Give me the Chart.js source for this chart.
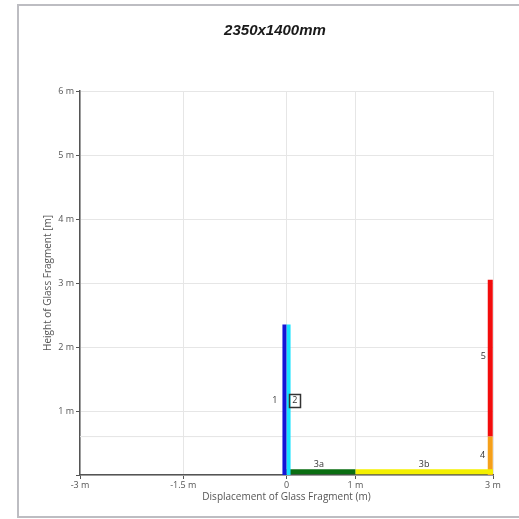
<!DOCTYPE html>
<html>
<head>
<meta charset="utf-8">
<script src="https://cdn.jsdelivr.net/npm/chart.js@4/dist/chart.umd.min.js"></script>
<style>
html,body{margin:0;padding:0;background:#fff;}
#c{display:block;}
</style>
</head>
<body>
<canvas id="c" width="519" height="519"></canvas>
<script>
// ---- data ----
const chartTitle = '2350x1400mm';
const xAxisTitle = 'Displacement of Glass Fragment (m)';
const yAxisTitle = 'Height of Glass Fragment [m]';
const xTicks = [-3, -1.5, 0, 1, 3];
const yTicks = [0, 1, 2, 3, 4, 5, 6];
const fragments = ['1', '2', '3a', '3b', '4', '5'];
const xStart = [-0.03, 0.03, 0, 1, 2.96, 2.96];
const xEnd   = [-0.03, 0.03, 1, 3, 2.96, 2.96];
const yStart = [0, 0, 0.05, 0.05, 0, 0.6];
const yEnd   = [2.35, 2.35, 0.05, 0.05, 0.6, 3.05];
const labelX = [-0.17, 0.12, 0.47, 2.0, 2.85, 2.86];
const labelY = [1.17, 1.17, 0.17, 0.17, 0.31, 1.86];
const refLineY = 0.6;

// ---- styles ----
const segColors = ['#1414d8', '#19e3ff', '#0b6e12', '#f4f000', '#f5a01a', '#f20c0c'];
const segWidths = [4, 4, 5, 5, 5, 5];
const boxed = [false, true, false, false, false, false];
const FONT = 'Open Sans';

const datasets = [];
datasets.push({
  data: [{x: -3, y: refLineY}, {x: 3, y: refLineY}],
  showLine: true, borderColor: '#e4e4e4', borderWidth: 1, pointRadius: 0, order: 10
});
fragments.forEach((f, i) => {
  datasets.push({
    label: f,
    data: [{x: xStart[i], y: yStart[i]}, {x: xEnd[i], y: yEnd[i]}],
    showLine: true, borderColor: segColors[i], borderWidth: segWidths[i],
    borderCapStyle: 'butt', pointRadius: 0, order: 1
  });
});

const decor = {
  id: 'decor',
  beforeDraw(chart) {
    const c = chart.ctx;
    c.save();
    c.strokeStyle = '#bdbdc2';
    c.lineWidth = 2;
    c.strokeRect(18, 5, 560, 512);
    c.fillStyle = '#1a1a1a';
    c.font = 'italic bold 15px "Liberation Sans"';
    c.textAlign = 'center';
    c.textBaseline = 'middle';
    c.fillText(chartTitle, 275, 31);
    c.restore();
  },
  afterDatasetsDraw(chart) {
    const c = chart.ctx, xs = chart.scales.x, ys = chart.scales.y;
    c.save();
    c.font = '9px "' + FONT + '"';
    c.fillStyle = '#333';
    c.textAlign = 'center';
    c.textBaseline = 'middle';
    fragments.forEach((f, i) => {
      const px = xs.getPixelForValue(labelX[i]);
      const py = ys.getPixelForValue(labelY[i]);
      c.fillText(f, px, py);
      if (boxed[i]) {
        const w = c.measureText(f).width + 6;
        c.strokeStyle = '#333';
        c.lineWidth = 1.5;
        c.strokeRect(Math.round(px - w / 2) + 0.5, Math.round(py - 6.5) + 0.5, Math.round(w), 13);
      }
    });
    c.restore();
  }
};

new Chart(document.getElementById('c'), {
  type: 'scatter',
  data: { datasets },
  plugins: [decor],
  options: {
    responsive: false,
    animation: false,
    layout: { padding: { left: 42, right: 26, top: 91, bottom: 16 } },
    plugins: { legend: { display: false }, tooltip: { enabled: false }, title: { display: false } },
    scales: {
      x: {
        type: 'linear', min: -3, max: 3,
        afterBuildTicks: s => { s.ticks = xTicks.map(v => ({ value: v })); },
        afterFit: s => { s.height = 28; },
        ticks: {
          font: { family: FONT, size: 9 }, color: '#555', padding: 1, maxRotation: 0,
          callback: v => v === 0 ? '0' : v + ' m'
        },
        grid: { color: '#e6e6e6', tickLength: 4, tickColor: '#555', lineWidth: 1 },
        border: { color: '#555', width: 1.5 },
        title: { display: true, text: xAxisTitle, font: { family: FONT, size: 10 }, color: '#555', padding: 0 }
      },
      y: {
        type: 'linear', min: 0, max: 6,
        afterBuildTicks: s => { s.ticks = yTicks.map(v => ({ value: v })); },
        afterFit: s => { s.width = 38; },
        ticks: {
          font: { family: FONT, size: 9 }, color: '#555', padding: 2,
          callback: v => v === 0 ? '' : v + ' m'
        },
        grid: { color: '#e6e6e6', tickLength: 4, tickColor: '#555', lineWidth: 1 },
        border: { color: '#555', width: 1.5 },
        title: { display: true, text: yAxisTitle, font: { family: FONT, size: 10 }, color: '#555', padding: 0 }
      }
    }
  }
});
</script>
</body>
</html>
